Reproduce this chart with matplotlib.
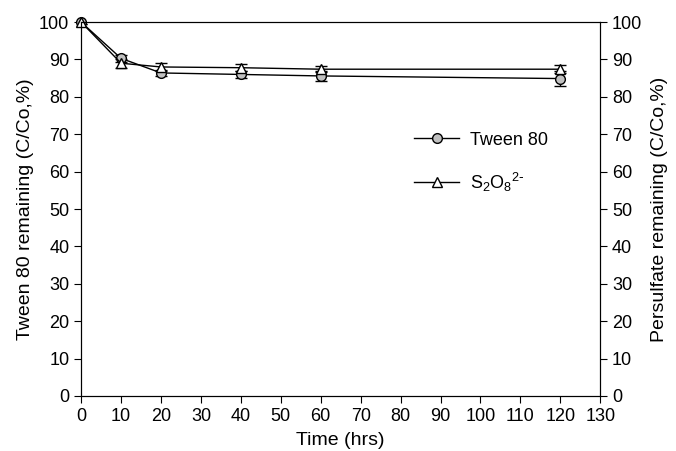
import numpy as np
import matplotlib
matplotlib.use("Agg")
import matplotlib.pyplot as plt
from matplotlib.lines import Line2D

plt.rcParams['font.family'] = ['Liberation Sans', 'DejaVu Sans']
plt.rcParams['mathtext.default'] = 'regular'

# Data
time_hrs = [0, 10, 20, 40, 60, 120]
tween80 = [100, 90.3, 86.4, 86.0, 85.6, 84.9]
tween80_err = [0.5, 1.0, 0.8, 1.0, 1.3, 1.9]
persulfate = [100, 89.0, 88.0, 87.8, 87.4, 87.4]
persulfate_err = [0.5, 1.2, 1.0, 1.0, 0.8, 1.0]

fig = plt.figure(figsize=(6.76, 4.51), dpi=100)
ax = fig.add_axes([0.12, 0.122, 0.768, 0.829])

for vals, errs, mk, fc in [(tween80, tween80_err, 'o', '#c0c0c0'),
                           (persulfate, persulfate_err, '^', 'white')]:
    lines = ax.errorbar(time_hrs, vals, yerr=errs, color='black', lw=1,
                        marker=mk, ms=7, mfc=fc, mec='black', mew=1,
                        capsize=4, elinewidth=1)
    lines[0].set_clip_on(False)

ax.set_xlim(0, 130)
ax.set_ylim(0, 100)
ax.set_xticks(np.arange(0, 131, 10))
ax.set_yticks(np.arange(0, 101, 10))
ax.tick_params(direction='out', length=5, labelsize=13)
ax.set_xlabel('Time (hrs)', fontsize=14, labelpad=5)
ax.set_ylabel('Tween 80 remaining (C/Co,%)', fontsize=14, labelpad=4)

ax2 = ax.twinx()
ax2.set_ylim(0, 100)
ax2.set_yticks(np.arange(0, 101, 10))
ax2.tick_params(direction='out', length=5, labelsize=13)
ax2.set_ylabel('Persulfate remaining (C/Co,%)', fontsize=14, labelpad=6)

handles = [
    Line2D([], [], color='black', lw=1, marker='o', ms=7, mfc='#c0c0c0', mec='black'),
    Line2D([], [], color='black', lw=1, marker='^', ms=7, mfc='white', mec='black'),
]
labels = ['Tween 80', r'S$_2$O$_8$$^{2\text{-}}$']
ax.legend(handles, labels, loc='upper left', bbox_to_anchor=(0.61, 0.75),
          frameon=False, fontsize=13, handlelength=2.5, labelspacing=1.2,
          handletextpad=0.6)

fig.savefig('out.png', dpi=100)
